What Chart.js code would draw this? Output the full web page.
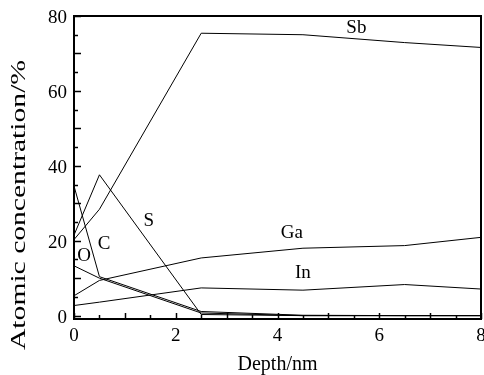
<!DOCTYPE html>
<html>
<head>
<meta charset="utf-8">
<script src="https://cdn.jsdelivr.net/npm/chart.js@4"></script>
<style>
  body { margin: 0; background: #fff; }
  #wrap { width: 484px; height: 375px; }
</style>
</head>
<body>
<div id="wrap"><canvas id="graphCanvas" width="484" height="375"></canvas></div>
<script>
// profondita (nm) e concentrazioni atomiche (%)
var depth = [0, 0.5, 2.5, 4.5, 6.5, 8];
var sb = [20.3, 28.4, 75.4, 75.0, 72.9, 71.6];
var ga = [5.3, 9.4, 15.4, 18.0, 18.7, 20.9];
var inn = [2.7, 3.6, 7.4, 6.8, 8.3, 7.1];
var s = [21.5, 37.6, 0.3, 0.0, 0.0, 0.0];
var c = [34.6, 10.4, 1.1, 0.1, 0.0, 0.0];
var o = [13.3, 10.0, 0.7, 0.0, 0.0, 0.0];

var xTicks = [0, 2, 4, 6, 8];
var yTicks = [0, 20, 40, 60, 80];

// etichette delle curve (testo, x, y in unita dei dati)
var labelPos = [
    ["Sb", 5.55, 76.8],
    ["Ga", 4.28, 22.1],
    ["In", 4.5, 11.5],
    ["S", 1.47, 25.3],
    ["C", 0.59, 19.1],
    ["O", 0.2, 16.0]
];

var serif = "'Liberation Serif', 'Times New Roman', serif";

function pts(vals) {
    return depth.map(function (d, i) {
        return { x: d, y: vals[i] };
    });
}

function ds(name, vals) {
    return {
        label: name,
        data: pts(vals),
        borderColor: '#000',
        borderWidth: 1,
        pointRadius: 0,
        fill: false,
        tension: 0
    };
}

// cornice, tacche interne, etichette e titolo asse y
var framePlugin = {
    id: 'frame',
    afterDraw: function (chart) {
        var ctx = chart.ctx;
        var a = chart.chartArea;
        var xs = chart.scales.x;
        var ys = chart.scales.y;
        ctx.save();
        ctx.strokeStyle = '#000';
        ctx.lineWidth = 1.5;
        for (var v = 0; v <= 8; v += 0.5) {
            var px = Math.round(xs.getPixelForValue(v)) + 0.5;
            var len = (v % 1 === 0) ? 6 : 4;
            ctx.beginPath();
            ctx.moveTo(px, a.bottom);
            ctx.lineTo(px, a.bottom - len);
            ctx.stroke();
        }
        for (var w = 0; w <= 80; w += 5) {
            var py = Math.round(ys.getPixelForValue(w)) + 0.5;
            var l2 = (w % 10 === 0) ? 7 : 4;
            ctx.beginPath();
            ctx.moveTo(a.left, py);
            ctx.lineTo(a.left + l2, py);
            ctx.stroke();
        }
        ctx.lineWidth = 2;
        ctx.strokeRect(a.left, a.top, a.right - a.left, a.bottom - a.top);

        ctx.fillStyle = '#000';
        ctx.font = '19px ' + serif;
        ctx.textAlign = 'center';
        ctx.textBaseline = 'middle';
        labelPos.forEach(function (p) {
            ctx.fillText(p[0], xs.getPixelForValue(p[1]), ys.getPixelForValue(p[2]));
        });

        // titolo asse y, allungato come nell'originale
        var title = 'Atomic concentration/%';
        ctx.font = '20px ' + serif;
        var tw = ctx.measureText(title).width;
        ctx.translate(20, 205);
        ctx.rotate(-Math.PI / 2);
        ctx.scale(290 / tw, 1);
        ctx.fillText(title, 0, 0);
        ctx.restore();
    }
};

var lineGraph = new Chart(document.getElementById('graphCanvas'), {
    type: 'line',
    data: {
        datasets: [
            ds('Sb', sb),
            ds('Ga', ga),
            ds('In', inn),
            ds('S', s),
            ds('C', c),
            ds('O', o)
        ]
    },
    options: {
        responsive: false,
        animation: false,
        layout: { padding: { top: 16, right: 3, left: 0, bottom: 0 } },
        plugins: {
            legend: { display: false },
            tooltip: { enabled: false }
        },
        scales: {
            x: {
                type: 'linear',
                min: 0,
                max: 8,
                grid: { display: false, drawTicks: false },
                border: { display: false },
                afterBuildTicks: function (scale) {
                    scale.ticks = xTicks.map(function (v) { return { value: v }; });
                },
                afterFit: function (scale) {
                    scale.height = 56;
                    scale.paddingLeft = 0;
                    scale.paddingRight = 0;
                },
                ticks: {
                    color: '#000',
                    padding: 6,
                    maxRotation: 0,
                    font: { family: serif, size: 19 }
                },
                title: {
                    display: true,
                    text: 'Depth/nm',
                    color: '#000',
                    padding: { top: 2, bottom: 0 },
                    font: { family: serif, size: 20, lineHeight: 1.0 }
                }
            },
            y: {
                min: -0.9,
                max: 80,
                grid: { display: false, drawTicks: false },
                border: { display: false },
                afterBuildTicks: function (scale) {
                    scale.ticks = yTicks.map(function (v) { return { value: v }; });
                },
                afterFit: function (scale) {
                    scale.width = 74;
                    scale.paddingTop = 0;
                    scale.paddingBottom = 0;
                },
                ticks: {
                    color: '#000',
                    padding: 7,
                    labelOffset: 2,
                    font: { family: serif, size: 19 }
                }
            }
        }
    },
    plugins: [framePlugin]
});
</script>
</body>
</html>
